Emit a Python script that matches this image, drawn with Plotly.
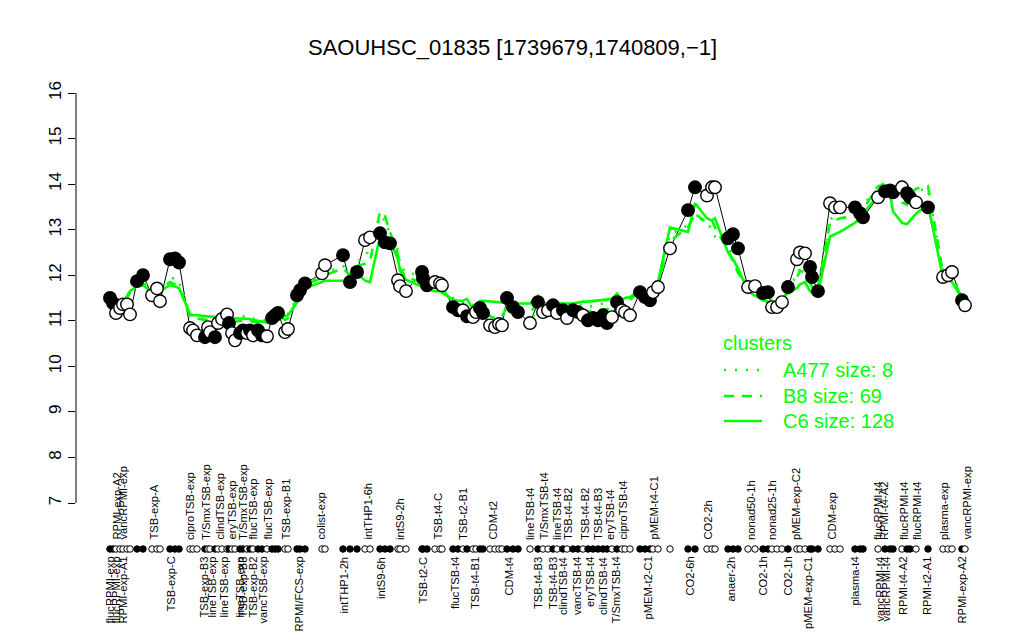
import plotly.graph_objects as go

# page has an 8px body margin; the figure is sized to fit the 1024x640 window
OFF = 8
W, H = 1024 - 2 * OFF, 640 - 2 * OFF

# ---------------- data ----------------
positions = [110,113,116,120,123,127,130,137,143,152,
             157,160,170,175,179,190,193,197,205,208,
             210,215,218,222,227,229,232,235,240,243,
             247,250,253,258,262,267,272,275,278,285,
             288,297,300,305,322,325,343,350,357,365,
             370,380,385,390,398,400,406,422,423,427,
             435,440,442,453,458,463,467,473,476,480,
             483,490,495,499,502,507,513,518,530,538,
             543,548,553,557,563,567,573,578,583,588,
             593,598,603,607,612,617,622,625,630,640,
             645,650,653,658,670,688,695,707,712,715,
             728,733,738,748,755,763,768,772,777,782,
             788,797,800,805,810,812,818,830,835,840,
             855,860,863,878,885,890,893,902,907,910,
             916,928,943,948,952,962,965]

values = [11.50,11.39,11.17,11.28,11.36,11.36,11.14,11.87,12.00,11.56,
          11.71,11.43,12.35,12.37,12.28,10.84,10.79,10.68,10.64,10.86,
          10.75,10.64,10.95,11.04,11.14,10.95,10.73,10.57,10.73,10.79,
          10.73,10.79,10.68,10.79,10.68,10.66,11.06,11.12,11.17,10.75,
          10.82,11.56,11.67,11.82,12.04,12.22,12.44,11.85,12.07,12.77,
          12.83,12.92,12.72,12.70,11.89,11.76,11.65,12.07,11.93,11.78,
          11.85,11.82,11.78,11.30,11.23,11.23,11.10,11.08,11.19,11.28,
          11.17,10.90,10.86,10.93,10.90,11.50,11.30,11.19,10.95,11.41,
          11.19,11.23,11.34,11.17,11.23,11.06,11.23,11.19,11.12,11.01,
          11.06,11.01,11.12,10.95,11.08,11.41,11.23,11.19,11.12,11.63,
          11.52,11.45,11.63,11.74,12.59,13.43,13.93,13.75,13.93,13.93,
          12.81,12.90,12.59,11.74,11.76,11.61,11.63,11.30,11.30,11.41,
          11.74,12.35,12.50,12.48,12.18,11.96,11.65,13.58,13.49,13.49,
          13.49,13.36,13.27,13.71,13.84,13.86,13.82,13.93,13.80,13.71,
          13.60,13.49,11.96,12.00,12.07,11.45,11.34]

filled = [1,1,0,0,0,0,0,1,1,0,
          0,0,1,1,1,0,0,0,1,0,
          0,1,0,0,0,1,0,0,1,1,
          0,1,0,1,1,0,1,1,1,0,
          0,1,1,1,0,0,1,1,1,0,
          0,1,1,1,0,0,0,1,1,1,
          0,0,0,1,1,0,1,0,0,1,
          1,0,0,0,0,1,1,1,0,1,
          0,0,1,0,1,0,1,1,0,1,
          1,1,1,1,0,1,0,0,0,1,
          1,1,0,0,0,1,1,0,0,0,
          1,1,1,0,0,1,1,0,0,0,
          1,0,0,0,1,1,1,0,0,0,
          1,1,1,0,1,1,1,0,1,1,
          0,1,0,0,0,1,0]

cluster_C6 = [11.30,11.32,11.34,11.36,11.40,11.55,11.65,11.76,11.78,11.63,
              11.66,11.65,11.78,11.75,11.72,11.15,11.12,11.12,11.10,11.10,
              11.08,11.08,11.08,11.07,11.07,11.06,11.06,11.05,11.05,11.05,
              11.04,11.04,11.02,11.00,10.98,10.96,11.18,11.20,11.18,11.10,
              11.12,11.40,11.55,11.72,11.85,11.88,11.88,11.85,12.05,11.88,
              11.85,12.85,12.85,12.75,12.35,12.10,11.90,11.75,11.72,11.70,
              11.65,11.65,11.62,11.46,11.44,11.44,11.48,11.25,11.35,11.44,
              11.44,11.42,11.41,11.40,11.40,11.50,11.40,11.38,11.38,11.55,
              11.38,11.38,11.38,11.38,11.38,11.38,11.38,11.40,11.42,11.42,
              11.43,11.45,11.45,11.46,11.48,11.60,11.46,11.50,11.52,11.68,
              11.60,11.52,11.55,11.85,13.05,12.95,13.58,13.25,13.20,13.25,
              12.50,12.35,12.15,11.65,11.55,11.45,11.42,11.40,11.42,11.50,
              11.60,11.72,11.80,11.85,11.65,11.62,11.60,12.85,12.90,12.95,
              13.15,13.25,13.35,13.75,13.80,13.80,13.40,13.15,13.12,13.20,
              13.35,13.55,11.95,11.90,11.85,11.50,11.40]

cluster_B8 = [11.25,11.28,11.30,11.33,11.38,11.50,11.62,11.80,11.82,11.68,
              11.72,11.70,11.85,11.80,11.75,11.10,11.05,11.05,11.02,11.03,
              11.02,11.00,11.02,11.05,11.05,11.02,11.00,10.98,11.00,11.00,
              10.98,11.00,10.98,10.97,10.95,10.92,11.10,11.12,11.12,11.02,
              11.05,11.45,11.60,11.78,11.95,12.00,12.15,12.00,12.20,12.25,
              12.30,13.40,13.30,12.95,12.45,12.15,11.95,11.85,11.80,11.75,
              11.75,11.72,11.70,11.40,11.35,11.30,11.30,11.22,11.25,11.30,
              11.28,11.10,11.05,11.08,11.10,11.30,11.25,11.22,11.20,11.35,
              11.25,11.25,11.28,11.25,11.25,11.22,11.22,11.22,11.20,11.20,
              11.22,11.22,11.25,11.25,11.28,11.40,11.35,11.40,11.45,11.70,
              11.62,11.55,11.58,11.80,12.75,13.05,13.35,13.15,13.20,13.05,
              12.55,12.30,12.05,11.75,11.62,11.50,11.50,11.40,11.42,11.48,
              11.65,11.95,12.10,12.05,11.85,11.75,11.70,13.15,13.20,13.25,
              13.30,13.35,13.45,13.95,14.00,13.95,13.80,13.60,13.55,13.75,
              13.90,13.95,12.05,12.00,11.95,11.50,11.38]

cluster_A477 = [11.35,11.38,11.40,11.42,11.45,11.55,11.65,11.80,11.85,11.70,
                11.75,11.72,11.90,11.95,11.85,11.15,11.10,11.10,11.10,11.12,
                11.10,11.08,11.10,11.12,11.15,11.10,11.08,11.05,11.08,11.10,
                11.05,11.08,11.05,11.05,11.02,11.00,11.20,11.25,11.22,11.10,
                11.15,11.50,11.62,11.80,12.00,12.05,12.20,12.10,12.30,12.40,
                12.60,13.30,13.20,12.90,12.55,12.25,12.05,12.00,11.90,11.85,
                11.95,11.85,11.80,11.50,11.45,11.40,11.42,11.35,11.38,11.42,
                11.40,11.00,10.95,11.00,11.05,11.35,11.30,11.28,10.80,11.50,
                11.35,11.40,11.42,11.38,11.40,11.35,11.38,11.36,11.35,11.30,
                11.32,11.35,11.38,11.35,11.40,11.50,11.42,11.48,11.50,11.75,
                11.65,11.58,11.60,11.85,12.90,13.10,13.30,13.15,13.00,12.85,
                12.65,12.40,12.10,11.80,11.65,11.55,11.52,11.45,11.45,11.55,
                11.70,12.00,12.15,12.10,11.90,11.80,11.75,13.20,13.35,13.40,
                13.40,13.45,13.55,13.90,14.05,14.00,13.85,13.70,13.60,13.75,
                13.85,13.90,12.10,12.05,12.00,11.55,11.45]

top_labels = ["RPMI-exp-A2","vancRPMI-exp","TSB-exp-A","ciproTSB-exp","T/SmxTSB-exp",
              "clindTSB-exp","eryTSB-exp","T/SmxTSB-exp","flucTSB-exp","flucTSB-exp",
              "TSB-exp-B1","colist-exp","intTHP1-6h","intS9-2h","TSB-t4-C",
              "TSB-t2-B1","CDM-t2","lineTSB-t4","T/SmxTSB-t4","lineTSB-t4",
              "TSB-t4-B2","TSB-t4-B2","TSB-t4-B3","eryTSB-t4","ciproTSB-t4",
              "pMEM-t4-C1","CO2-2h","nonad50-1h","nonad25-1h","pMEM-exp-C2",
              "CDM-exp","flucRPMI-t4","RPMI-t4-A2","flucRPMI-t4","flucRPMI-t4",
              "plasma-exp","vancRPMI-exp"]
top_label_pos = [116,122,153,190,206,219,231,243,252,267,
                 285,320,367,400,437,463,492,530,543,557,
                 568,585,598,610,622,653,707,751,772,796,
                 831,878,884,904,917,944,966]

bottom_labels = ["flucRPMI-exp","flucRPMI-exp","RPMI-exp-A1","TSB-exp-C","TSB-exp-B3",
                 "lineTSB-exp","lineTSB-exp","lineTSB-exp","TSB-exp-B3","TSB-exp-B2",
                 "vancTSB-exp","RPMI/FCS-exp","intTHP1-2h","intS9-6h","TSB-t2-C",
                 "flucTSB-t4","TSB-t4-B1","CDM-t4","TSB-t4-B3","TSB-t4-B3",
                 "clindTSB-t4","vancTSB-t4","eryTSB-t4","clindTSB-t4","T/SmxTSB-t4",
                 "pMEM-t2-C1","CO2-6h","anaer-2h","CO2-1h","CO2-1h",
                 "pMEM-exp-C1","plasma-t4","vancRPMI-t4","vancRPMI-t4","RPMI-t4-A2",
                 "RPMI-t2-A1","RPMI-exp-A2"]
bottom_label_pos = [109,115,122,170,203,211,223,239,242,252,
                    262,298,343,381,422,455,475,508,538,553,
                    563,577,590,603,615,647,689,730,762,787,
                    808,854,879,885,903,927,961]

clusters = [("A477 size: 8", cluster_A477, "dot"),
            ("B8 size: 69", cluster_B8, "dash"),
            ("C6 size: 128", cluster_C6, "solid")]

title = "SAOUHSC_01835 [1739679,1740809,\u22121]"
y_ticks = list(range(7, 17))

# ---------------- style / layout helpers ----------------
FONT = "Liberation Sans, Arial, Helvetica, sans-serif"
GREEN = "#00FF00"
LABEL_SIZE = 11.2
PLOT_L, PLOT_R = 76, 999          # screen-pixel extents of the plotting region
PLOT_T, PLOT_B = 76.6, 519.4
RUG_Y = 549

def px_x(p):
    return (p - OFF) / W

def px_y(p):
    return 1 - (p - OFF) / H

x0_val = PLOT_L
x1_val = PLOT_R

dash_map = {"dot": "2px,9px", "dash": "10px,8px", "solid": "solid"}

fig = go.Figure()

fig.add_trace(go.Scatter(x=positions, y=values, mode="lines",
                         line=dict(color="black", width=1), hoverinfo="skip",
                         showlegend=False))

for name, vals, dash in clusters:
    fig.add_trace(go.Scatter(x=positions, y=vals, mode="lines", name=name,
                             line=dict(color=GREEN, width=2.6, dash=dash_map[dash]),
                             showlegend=False))

fig.add_trace(go.Scatter(
    x=positions, y=values, mode="markers", showlegend=False,
    marker=dict(size=12.5, symbol="circle",
                color=["black" if f else "white" for f in filled],
                line=dict(color="black", width=1.4))))

fig.add_trace(go.Scatter(
    x=positions, y=[0.5] * len(positions), mode="markers", showlegend=False,
    xaxis="x", yaxis="y2",
    marker=dict(size=6.5, symbol="circle",
                color=["black" if f else "white" for f in filled],
                line=dict(color="black", width=1))))

annotations = []
annotations.append(dict(text=title, x=px_x(512), y=px_y(47), xref="paper", yref="paper",
                        showarrow=False, font=dict(family=FONT, size=22, color="black"),
                        xanchor="center", yanchor="middle"))

for lab, p in zip(top_labels, top_label_pos):
    annotations.append(dict(text=lab, x=p, y=px_y(541), xref="x", yref="paper",
                            showarrow=False, textangle=-90, xanchor="center",
                            yanchor="bottom", font=dict(family=FONT, size=LABEL_SIZE, color="black"),
                            borderpad=0))
for lab, p in zip(bottom_labels, bottom_label_pos):
    annotations.append(dict(text=lab, x=p, y=px_y(556), xref="x", yref="paper",
                            showarrow=False, textangle=-90, xanchor="center",
                            yanchor="top", font=dict(family=FONT, size=LABEL_SIZE, color="black"),
                            borderpad=0))

annotations.append(dict(text="clusters", x=px_x(721), y=px_y(343), xref="paper", yref="paper",
                        showarrow=False, xanchor="left", yanchor="middle",
                        font=dict(family=FONT, size=20, color=GREEN)))
shapes = []
leg_rows = [370, 396, 421]
for (name, _, dash), yy in zip(clusters, leg_rows):
    annotations.append(dict(text=name, x=px_x(781), y=px_y(yy), xref="paper", yref="paper",
                            showarrow=False, xanchor="left", yanchor="middle",
                            font=dict(family=FONT, size=20, color=GREEN)))
    shapes.append(dict(type="line", xref="paper", yref="paper",
                       x0=px_x(724), x1=px_x(762), y0=px_y(yy), y1=px_y(yy),
                       line=dict(color=GREEN, width=2.6, dash=dash_map[dash])))

shapes.append(dict(type="line", xref="paper", yref="y", x0=px_x(PLOT_L), x1=px_x(PLOT_L),
                   y0=y_ticks[0], y1=y_ticks[-1], line=dict(color="black", width=1)))

fig.update_layout(
    width=W, height=H,
    margin=dict(l=0, r=0, t=0, b=0, autoexpand=False),
    paper_bgcolor="white", plot_bgcolor="white",
    showlegend=False,
    xaxis=dict(domain=[px_x(PLOT_L), px_x(PLOT_R)], range=[x0_val, x1_val],
               showgrid=False, zeroline=False, showline=False,
               showticklabels=False, ticks="", anchor="y"),
    yaxis=dict(domain=[px_y(PLOT_B), px_y(PLOT_T)], range=[6.64, 16.36],
               tickvals=y_ticks, ticktext=[str(t) for t in y_ticks],
               tickangle=-90, ticks="outside", ticklen=7, tickwidth=1, tickcolor="black",
               showgrid=False, zeroline=False, showline=False,
               tickfont=dict(family=FONT, size=17, color="black"),
               anchor="x"),
    yaxis2=dict(domain=[px_y(RUG_Y + 7), px_y(RUG_Y - 7)], range=[0, 1],
                showgrid=False, zeroline=False, showline=False,
                showticklabels=False, ticks="", anchor="x"),
    annotations=annotations,
    shapes=shapes,
)

fig.write_html("out.html")
